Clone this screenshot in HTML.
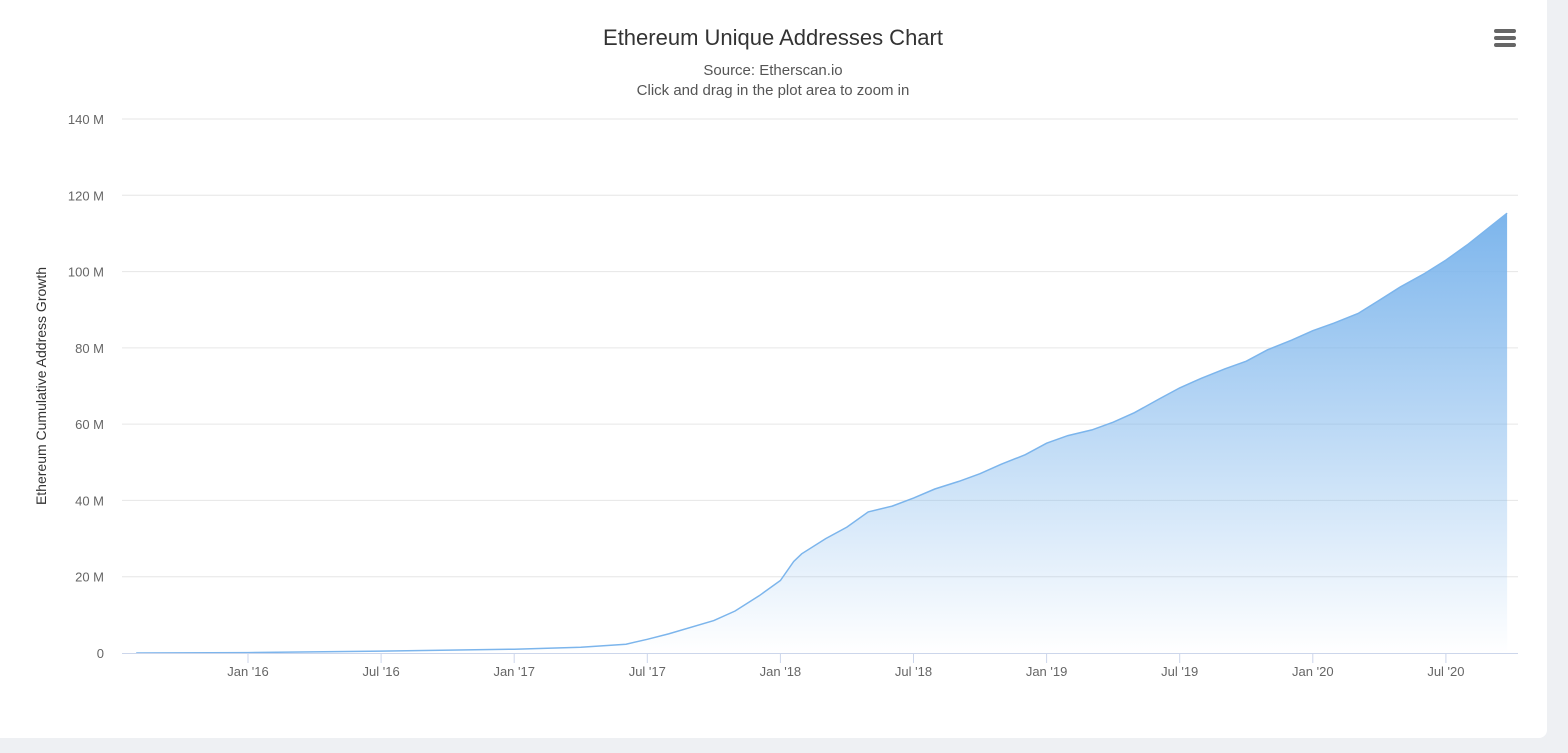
<!DOCTYPE html>
<html><head><meta charset="utf-8"><style>
body{margin:0;background:#eef0f3;width:1568px;height:753px;overflow:hidden;font-family:"Liberation Sans",sans-serif}
#card{position:absolute;left:0;top:0;width:1547px;height:738px;background:#fff;border-radius:0 0 8px 0}
</style></head><body>
<div id="card">
<svg id="chart" width="1568" height="753" style="position:absolute;left:0;top:0">
<defs><linearGradient id="g" x1="0" y1="0" x2="0" y2="1"><stop offset="0" stop-color="#7cb5ec" stop-opacity="1"/><stop offset="1" stop-color="#7cb5ec" stop-opacity="0"/></linearGradient></defs>
<text x="773" y="45" text-anchor="middle" font-size="22" fill="#333">Ethereum Unique Addresses Chart</text>
<text x="773" y="75" text-anchor="middle" font-size="15" fill="#555">Source: Etherscan.io</text>
<text x="773" y="95" text-anchor="middle" font-size="15" fill="#555">Click and drag in the plot area to zoom in</text>
<g fill="#666"><rect x="1494" y="29" width="22" height="4" rx="2"/><rect x="1494" y="36" width="22" height="4" rx="2"/><rect x="1494" y="43" width="22" height="4" rx="2"/></g>
<text transform="translate(46,386) rotate(-90)" text-anchor="middle" font-size="14" fill="#333">Ethereum Cumulative Address Growth</text>
<g id="grid"></g><g id="series"></g><g id="xaxis"></g>
</svg></div>
<script>
const yTicks=[0,20,40,60,80,100,120,140];
const yTickLabels=["0","20 M","40 M","60 M","80 M","100 M","120 M","140 M"];
const xTicks=[2016,2016.5,2017,2017.5,2018,2018.5,2019,2019.5,2020,2020.5];
const xTickLabels=["Jan '16","Jul '16","Jan '17","Jul '17","Jan '18","Jul '18","Jan '19","Jul '19","Jan '20","Jul '20"];
const times=[2015.58,2016,2016.5,2017,2017.25,2017.42,2017.5,2017.58,2017.75,2017.83,2017.92,2018,2018.05,2018.08,2018.17,2018.25,2018.33,2018.42,2018.5,2018.58,2018.67,2018.75,2018.83,2018.92,2019,2019.08,2019.17,2019.25,2019.33,2019.42,2019.5,2019.58,2019.67,2019.75,2019.83,2019.92,2020,2020.08,2020.17,2020.25,2020.33,2020.42,2020.5,2020.58,2020.67,2020.73];
const values=[0,0.1,0.5,1.0,1.5,2.3,3.6,5,8.5,11,15,19,24,26,30,33,37,38.5,40.6,43,45,47,49.5,52,55,57,58.5,60.5,63,66.5,69.5,72,74.5,76.5,79.5,82,84.5,86.5,89,92.5,96,99.5,103,107,112,115.3];
const NS='http://www.w3.org/2000/svg';
const X=t=>248+(t-2016)*266.2, Y=v=>653-v*(534/140);
function mk(tag,attrs,parent){const e=document.createElementNS(NS,tag);for(const k in attrs)e.setAttribute(k,attrs[k]);parent.appendChild(e);return e;}
const grid=document.getElementById('grid'),xa=document.getElementById('xaxis'),se=document.getElementById('series');
yTicks.forEach((v,i)=>{
 if(v>0){const l=mk('line',{x1:122,x2:1518,y1:Y(v),y2:Y(v),stroke:'#e6e6e6'},grid);
 
 }
 const t=mk('text',{x:104,y:Y(v)+5,'text-anchor':'end','font-size':13,fill:'#666'},grid);t.textContent=yTickLabels[i];
 
 
});
const ax=mk('line',{x1:122,x2:1518,y1:653.5,y2:653.5,stroke:'#ccd6eb'},xa);


xTicks.forEach((t,i)=>{
 const x=X(t);
 const tk=mk('line',{x1:x,x2:x,y1:653,y2:663,stroke:'#ccd6eb'},xa);
 
 
 const tx=mk('text',{x:x,y:676,'text-anchor':'middle','font-size':13,fill:'#666'},xa);tx.textContent=xTickLabels[i];
 
 
});
let d=times.map((t,i)=>(i?'L':'M')+X(t).toFixed(1)+','+Y(values[i]).toFixed(1)).join('');
const area=mk('path',{d:d+'L'+X(times[times.length-1])+',653L'+X(times[0])+',653Z',fill:'url(#g)'},se);


const line=mk('path',{d:d,fill:'none',stroke:'#7cb5ec','stroke-width':1.5},se);


</script></body></html>
